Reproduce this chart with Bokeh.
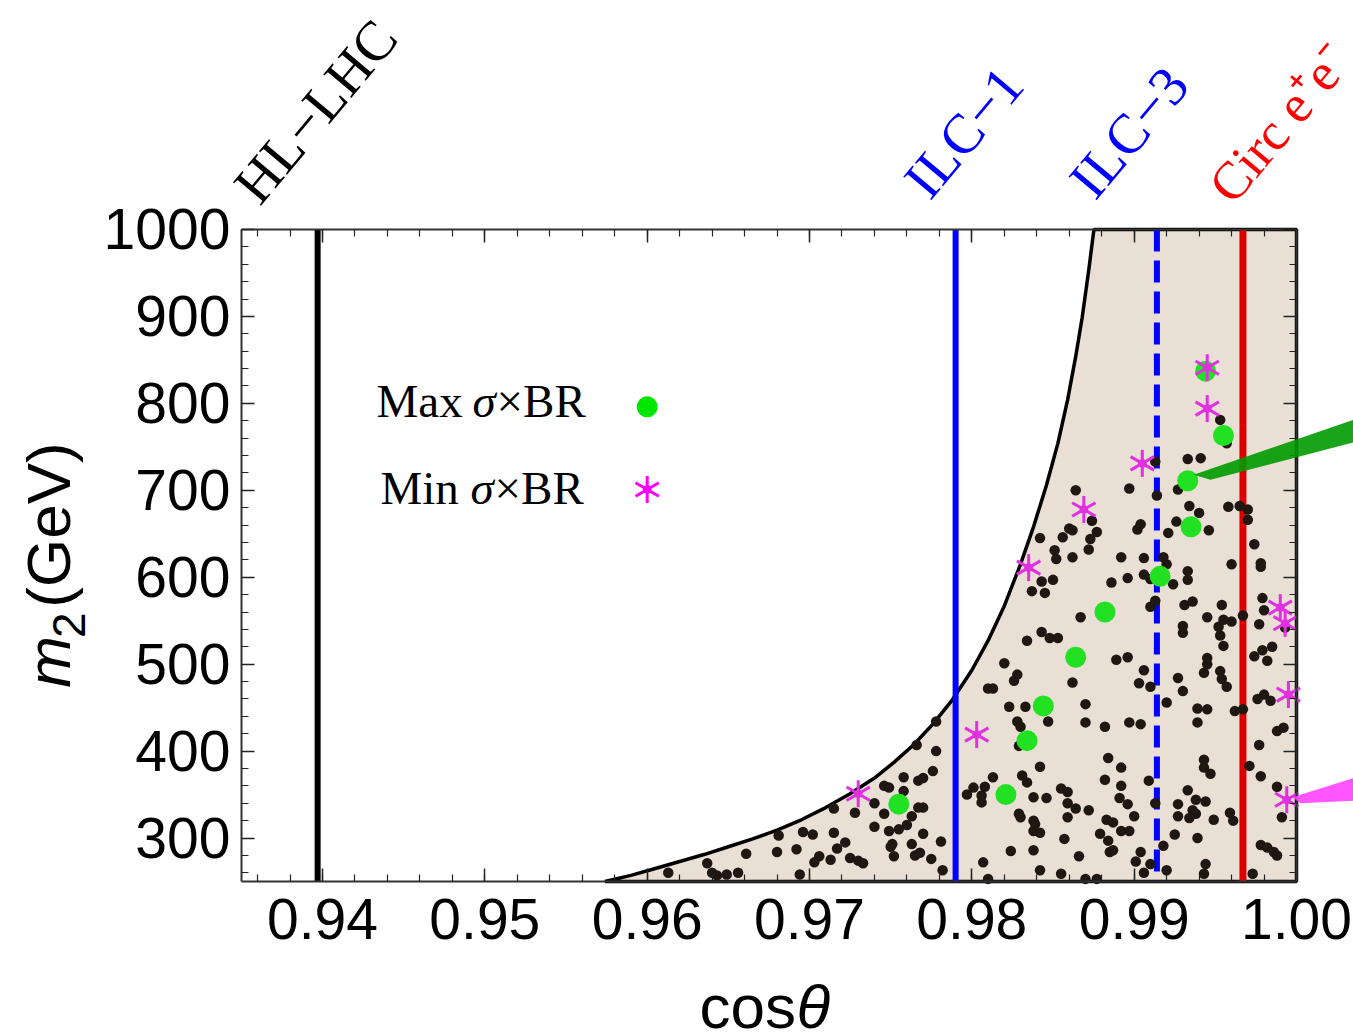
import math
from bokeh.plotting import figure
from bokeh.models import (Label, LinearAxis, SingleIntervalTicker,
                          PrintfTickFormatter, PolyAnnotation)
from bokeh.embed import file_html
from bokeh.resources import INLINE

# ---------------------------------------------------------------
# data: cos(theta) versus heavy scalar mass m2 (GeV)
# ---------------------------------------------------------------

# upper edge of the allowed region
bound_cos = [0.9574, 0.9590, 0.9605, 0.9620, 0.9635, 0.9650, 0.9665, 0.9680,
             0.9695, 0.9710, 0.9725, 0.9740, 0.9752, 0.9764, 0.9776, 0.9788,
             0.9800, 0.9810, 0.9820, 0.9830, 0.9838, 0.9846, 0.9853, 0.9859,
             0.9864, 0.9868, 0.9872, 0.98752]
bound_m2 = [250, 257, 265, 273, 281, 290, 299, 309,
            321, 335, 351, 369, 387, 407, 431, 459,
            493, 527, 567, 615, 658, 706, 754, 804,
            854, 899, 953, 1000]

# parameter-scan points passing all constraints
scan_cos = [
    0.9715, 0.9681, 0.9696, 0.9702, 0.9715, 0.9680, 0.9692, 0.9661, 0.9717, 0.9706,
    0.9703, 0.9713, 0.9637, 0.9613, 0.9640, 0.9643, 0.9649, 0.9656, 0.9694,
    0.9728, 0.9740, 0.9746, 0.9740, 0.9746, 0.9749, 0.9758, 0.9758, 0.9767, 0.9770,
    0.9776, 0.9778, 0.9766, 0.9778, 0.9763, 0.9767, 0.9770, 0.9760, 0.9755, 0.9749,
    0.9770, 0.9751, 0.9750, 0.9763, 0.9781, 0.9722, 0.9725, 0.9730, 0.9733, 0.9752,
    0.9765, 0.9768, 0.9775, 0.9782,
    0.9820, 0.9828, 0.9826, 0.9810, 0.9813, 0.9823, 0.9833, 0.9828, 0.9847, 0.9830,
    0.9829, 0.9842, 0.9813, 0.9831, 0.9834, 0.9801, 0.9797, 0.9808, 0.9806, 0.9806,
    0.9838, 0.9846, 0.9855, 0.9859, 0.9859, 0.9829, 0.9830, 0.9838, 0.9839, 0.9838,
    0.9842, 0.9857, 0.9824, 0.9838, 0.9807, 0.9842, 0.9855, 0.9810,
    0.9862, 0.9870, 0.9870, 0.9882, 0.9897, 0.9904, 0.9906, 0.9903, 0.9910, 0.9920,
    0.9927, 0.9930, 0.9943, 0.9945, 0.9953, 0.9954, 0.9957, 0.9939, 0.9945, 0.9939,
    0.9962, 0.9967, 0.9976, 0.9980, 0.9984, 0.9988, 0.9992, 0.9977, 0.9971, 0.9978,
    0.9988, 0.9991, 0.9884, 0.9892, 0.9882, 0.9892, 0.9909, 0.9864, 0.9872, 0.9859,
    0.9891, 0.9896, 0.9883, 0.9887, 0.9900, 0.9892, 0.9897, 0.9879, 0.9884, 0.9885,
    0.9887, 0.9904, 0.9901, 0.9910, 0.9906, 0.9866, 0.9870, 0.9877, 0.9913, 0.9918,
    0.9920, 0.9927, 0.9933, 0.9938, 0.9944, 0.9936, 0.9938, 0.9934, 0.9927, 0.9925,
    0.9939, 0.9949, 0.9959, 0.9961, 0.9943, 0.9943, 0.9947, 0.9944, 0.9943, 0.9973,
    0.9978, 0.9982, 0.9986, 0.9988,
    0.9864, 0.9874, 0.9877, 0.9873, 0.9872, 0.9860, 0.9862, 0.9856, 0.9842, 0.9851,
    0.9852, 0.9862, 0.9892, 0.9850, 0.9843, 0.9837, 0.9845, 0.9886, 0.9867, 0.9843,
    0.9834, 0.9848, 0.9853, 0.9889,
    0.9933, 0.9941, 0.9913, 0.9897, 0.9914, 0.9927, 0.9934, 0.9940, 0.9926, 0.9946,
    0.9921, 0.9904, 0.9902, 0.9958, 0.9965, 0.9970, 0.9970, 0.9974, 0.9960, 0.9978,
    0.9978, 0.9906, 0.9918, 0.9920, 0.9896, 0.9906, 0.9910, 0.9933, 0.9933, 0.9924,
    0.9910, 0.9913, 0.9931, 0.9936, 0.9954, 0.9945, 0.9952, 0.9955, 0.9960, 0.9967,
    0.9953, 0.9955, 0.9930, 0.9930, 0.9979, 0.9980, 0.9977, 0.9985, 0.9979, 0.9974,
    0.9982, 0.9896, 0.9945, 0.9957, 0.9953, 0.9993,
]
scan_m2 = [
    334, 303, 307, 304, 306, 284, 287, 282, 288, 279,
    272, 275, 271, 260, 260, 257, 258, 260, 258,
    329, 313, 328, 340, 360, 358, 370, 354, 366, 369,
    377, 400, 407, 434, 325, 335, 335, 315, 310, 308,
    305, 293, 290, 293, 296, 295, 277, 274, 271, 279,
    280, 283, 276, 263,
    501, 488, 481, 472, 472, 451, 451, 434, 434, 428,
    406, 382, 370, 372, 364, 358, 350, 359, 349, 341,
    347, 346, 357, 353, 340, 328, 324, 320, 316, 308,
    306, 299, 285, 286, 272, 263, 259, 253,
    479, 454, 433, 428, 433, 431, 493, 478, 474, 456,
    484, 469, 490, 500, 492, 483, 474, 449, 448, 433,
    446, 448, 460, 465, 458, 423, 427, 407, 383, 371,
    359, 324, 392, 381, 367, 360, 366, 334, 332, 324,
    346, 339, 321, 318, 325, 308, 308, 305, 297, 284,
    286, 284, 273, 270, 260, 279, 253, 253, 340, 291,
    263, 339, 355, 344, 342, 332, 328, 323, 325, 304,
    300, 321, 329, 320, 390, 381, 374, 270, 259, 259,
    292, 289, 284, 280,
    700, 665, 652, 644, 632, 656, 654, 646, 645, 631,
    621, 623, 623, 597, 595, 584, 582, 594, 554, 537,
    527, 530, 530, 505,
    736, 737, 733, 702, 694, 701, 682, 674, 664, 654,
    651, 661, 655, 681, 682, 678, 666, 638, 615, 616,
    612, 622, 623, 615, 599, 603, 598, 607, 597, 592,
    566, 573, 568, 572, 568, 554, 543, 551, 549, 556,
    533, 521, 544, 536, 576, 562, 546, 520, 516, 509,
    504, 508, 507, 754, 781, 542,
]

# benchmark points: maximal and minimal sigma x BR
max_cos = [0.9755, 0.9821, 0.9834, 0.9844, 0.9864, 0.9882, 0.9916, 0.9935, 0.9933, 0.9955, 0.9944]
max_m2 = [339, 350, 412, 452, 508, 560, 601, 658, 711, 763, 837]
min_cos = [0.9730, 0.9803, 0.9835, 0.9869, 0.9905, 0.9945, 0.9945, 0.9990, 0.9993, 0.9995, 0.9994]
min_m2 = [351, 419, 611, 678, 731, 841, 794, 565, 547, 465, 344]

# projected collider reach in cos(theta)
reach_names = ["HL\u2212LHC", "ILC\u22121", "ILC\u22123", "Circ e\u207ae\u207b"]
reach_cos = [0.9397, 0.9790, 0.9914, 0.9967]

# axis ticks
x_tick_step = 0.01
y_tick_step = 100

# ---------------------------------------------------------------
X_LO, X_HI = 0.935, 1.0          # plotted window
Y_LO, Y_HI = 250, 1000
# the canvas extends beyond the window so the annotations around it are not clipped
CX = (0.920164, 1.003511)
CY = (72.85, 1263.42)

p = figure(width=1353, height=1035, x_range=CX, y_range=CY, title=None,
           output_backend="svg", toolbar_location=None,
           x_axis_type=None, y_axis_type=None,
           min_border_left=0, min_border_right=0,
           min_border_top=0, min_border_bottom=0)
p.xgrid.visible = False
p.ygrid.visible = False
p.background_fill_color = "white"
p.border_fill_color = "white"
p.outline_line_color = None

SANS = "Liberation Sans"
SERIF = "Liberation Serif"


def frame_axis(ticker, loc, bounds, show_labels):
    ax = LinearAxis(ticker=ticker, fixed_location=loc, bounds=bounds,
                    major_tick_in=13, major_tick_out=0,
                    minor_tick_in=7, minor_tick_out=0,
                    major_tick_line_color="#222222", minor_tick_line_color="#222222",
                    major_tick_line_width=1.5, minor_tick_line_width=1.2,
                    axis_line_color="#333333", axis_line_width=2)
    if show_labels:
        ax.major_label_text_font = SANS
        ax.major_label_text_font_size = "57px"
        ax.major_label_text_color = "black"
    else:
        ax.major_label_text_color = None
    return ax


xt = SingleIntervalTicker(interval=x_tick_step, num_minor_ticks=5)
yt = SingleIntervalTicker(interval=y_tick_step, num_minor_ticks=5)

bottom = frame_axis(xt, Y_LO, (X_LO, X_HI), True)
bottom.formatter = PrintfTickFormatter(format="%.2f")
bottom.major_label_standoff = 18
left = frame_axis(yt, X_LO, (Y_LO, Y_HI), True)
left.major_label_standoff = 11
p.add_layout(bottom, "below")
p.add_layout(left, "left")
p.add_layout(frame_axis(xt, Y_HI, (X_LO, X_HI), False), "above")
p.add_layout(frame_axis(yt, X_HI, (Y_LO, Y_HI), False), "right")

# allowed region
poly_x = bound_cos + [X_HI, X_HI]
poly_y = bound_m2 + [Y_HI, Y_LO]
p.patch(poly_x, poly_y, fill_color="#e9dfd5", line_color="black", line_width=3.5)

# collider reach lines
reach_styles = [("black", "solid", 6), ("#0000ff", "solid", 6),
                ("#0000ff", "22 9", 6), ("#dd0000", "solid", 7)]
for xc, (col, dash, lw) in zip(reach_cos, reach_styles):
    p.segment(x0=[xc], y0=[Y_HI], x1=[xc], y1=[Y_LO], line_color=col,
              line_width=lw, line_dash=dash)

# scan points and benchmarks
p.scatter(scan_cos, scan_m2, size=10.5, fill_color="#1e1712", line_color=None)
p.scatter(max_cos, max_m2, size=21, fill_color="#22e022", line_color=None)


def six_point_star(xs, ys, color, size):
    # three spokes 60 degrees apart plus a small filled core
    for ang in (90, 30, -30):
        p.scatter(xs, ys, marker="dash", size=size, angle=math.radians(ang),
                  line_color=color, line_width=3)
    p.scatter(xs, ys, marker="hex", size=9, fill_color=color, line_color=None)


six_point_star(min_cos, min_m2, "#e030e0", 27)

# hand-drawn pointers leaving the window
p.add_layout(PolyAnnotation(xs=[0.99366, 1.00351, 1.00351, 0.99470],
                            ys=[718, 781, 755, 712],
                            fill_color="#009a00", fill_alpha=0.9, line_color=None))
p.add_layout(PolyAnnotation(xs=[0.99975, 1.00351, 1.00351, 1.00025],
                            ys=[347, 369, 343, 340],
                            fill_color="#ff44ff", fill_alpha=0.9, line_color=None))

# legend
p.scatter([0.9600], [796], size=21, fill_color="#00e600", line_color=None)
six_point_star([0.9600], [701], "#ff00ff", 27)
for x0, y0, txt, style in [(0.94333, 803, "Max", "normal"), (0.94924, 803, "\u03c3", "italic"),
                           (0.95072, 803, "\u00d7BR", "normal"),
                           (0.94357, 703, "Min", "normal"), (0.94912, 703, "\u03c3", "italic"),
                           (0.95060, 703, "\u00d7BR", "normal")]:
    p.add_layout(Label(x=x0, y=y0, text=txt, text_font=SERIF, text_font_size="47px",
                       text_font_style=style, text_color="black",
                       text_align="left", text_baseline="middle"))

# collider labels above the window
label_pos = [(0.93525, 1040), (0.97653, 1046), (0.98670, 1046), (0.99525, 1040)]
label_col = ["black", "#0000ff", "#0000ff", "#ff0000"]
label_size = ["56px", "56px", "56px", "53px"]
for (lx, ly), name, col, fs in zip(label_pos, reach_names, label_col, label_size):
    p.add_layout(Label(x=lx, y=ly, text=name, angle=math.radians(50),
                       text_font=SERIF, text_font_size=fs, text_color=col,
                       text_align="left", text_baseline="alphabetic"))

# axis titles
for x0, y0, txt, size, style in [(0.92315, 473, "m", "62px", "italic"),
                                 (0.92438, 530, "2", "46px", "normal"),
                                 (0.92315, 565, "(GeV)", "62px", "normal")]:
    p.add_layout(Label(x=x0, y=y0, text=txt, angle=math.pi / 2, text_font=SANS,
                       text_font_size=size, text_font_style=style, text_color="black",
                       text_align="left", text_baseline="middle"))
p.add_layout(Label(x=0.96322, y=106, text="cos", text_font=SANS, text_font_size="62px",
                   text_color="black", text_align="left", text_baseline="middle"))
p.add_layout(Label(x=0.96920, y=106, text="\u03b8", text_font=SANS, text_font_size="62px",
                   text_font_style="italic", text_color="black",
                   text_align="left", text_baseline="middle"))

open("out.html", "w").write(file_html(p, INLINE))
